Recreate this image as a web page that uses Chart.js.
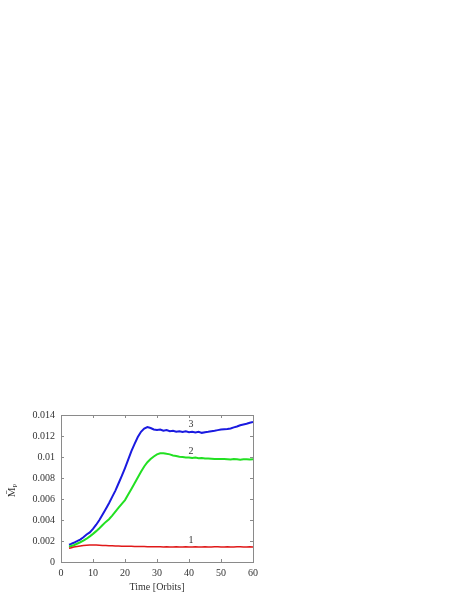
<!DOCTYPE html>
<html>
<head>
<meta charset="utf-8">
<script src="https://cdn.jsdelivr.net/npm/chart.js@4"></script>
<style>
  body { margin: 0; background: #fff; }
  #wrap { width: 458px; height: 592px; }
</style>
</head>
<body>
<div id="wrap"><canvas id="myChart" width="458" height="592"></canvas></div>
<script>
// time in orbits
const times = [2.5, 3, 4, 5, 6, 7, 8, 9, 10, 11, 12, 13, 14, 15, 16, 17, 18, 19, 20,
  21, 22, 23, 24, 25, 26, 27, 28, 29, 30, 31, 32, 33, 34, 35, 36, 37, 38, 39, 40,
  41, 42, 43, 44, 45, 46, 47, 48, 49, 50, 51, 52, 53, 54, 55, 56, 57, 58, 59, 60];

// curve 3 (blue)
const mp3 = [0.00165, 0.00170, 0.00183, 0.00198, 0.00214, 0.00236, 0.00262, 0.00282, 0.00315,
  0.00355, 0.00400, 0.00452, 0.00505, 0.00560, 0.00620, 0.00680, 0.00750, 0.00820, 0.00895,
  0.00975, 0.01055, 0.01125, 0.01190, 0.01240, 0.01270, 0.01285, 0.01276, 0.01262, 0.01258,
  0.01262, 0.01250, 0.01256, 0.01246, 0.01250, 0.01240, 0.01246, 0.01238, 0.01244, 0.01236,
  0.01240, 0.01234, 0.01240, 0.01230, 0.01236, 0.01240, 0.01246, 0.01250, 0.01256, 0.01262,
  0.01264, 0.01266, 0.01272, 0.01282, 0.01290, 0.01302, 0.01310, 0.01316, 0.01326, 0.01334];

// curve 2 (green)
const mp2 = [0.00145, 0.00150, 0.00160, 0.00174, 0.00188, 0.00204, 0.00222, 0.00244, 0.00268,
  0.00294, 0.00322, 0.00352, 0.00382, 0.00408, 0.00442, 0.00480, 0.00518, 0.00554, 0.00590,
  0.00642, 0.00696, 0.00750, 0.00805, 0.00860, 0.00910, 0.00950, 0.00980, 0.01005, 0.01025,
  0.01035, 0.01036, 0.01030, 0.01025, 0.01015, 0.01010, 0.01002, 0.01000, 0.00995, 0.00996,
  0.00990, 0.00994, 0.00988, 0.00990, 0.00985, 0.00986, 0.00984, 0.00980, 0.00982, 0.00980,
  0.00980, 0.00978, 0.00976, 0.00980, 0.00979, 0.00975, 0.00979, 0.00978, 0.00976, 0.00979];

// curve 1 (red)
const mp1 = [0.00130, 0.00134, 0.00142, 0.00148, 0.00153, 0.00157, 0.00160, 0.00162, 0.00163,
  0.00162, 0.00160, 0.00158, 0.00157, 0.00155, 0.00154, 0.00153, 0.00152, 0.00151, 0.00150,
  0.00149, 0.00149, 0.00148, 0.00148, 0.00147, 0.00147, 0.00146, 0.00146, 0.00145, 0.00145,
  0.00145, 0.00144, 0.00145, 0.00144, 0.00144, 0.00145, 0.00144, 0.00144, 0.00145, 0.00144,
  0.00144, 0.00145, 0.00144, 0.00144, 0.00145, 0.00144, 0.00144, 0.00145, 0.00145, 0.00144,
  0.00144, 0.00145, 0.00144, 0.00144, 0.00145, 0.00145, 0.00144, 0.00144, 0.00145, 0.00144];

// curve labels, placed in data coordinates
const curveNames = ['1', '2', '3'];
const curveLabelX = [40.6, 40.6, 40.6];
const curveLabelY = [0.00204, 0.01057, 0.01308];

const xTicks = [0, 10, 20, 30, 40, 50, 60];
const yTicks = [0, 0.002, 0.004, 0.006, 0.008, 0.01, 0.012, 0.014];

const FONT = 'Liberation Serif';
const TXT = '#333';
const AXIS = '#8a8a8a';

const toPoints = vals => times.map((t, i) => ({ x: t, y: vals[i] }));

// gnuplot-style box with inward ticks, titles and curve numbers
const frame = {
  id: 'frame',
  afterDraw(chart) {
    const { ctx, chartArea: a, scales: { x, y } } = chart;
    ctx.save();
    ctx.strokeStyle = AXIS;
    ctx.lineWidth = 1;
    ctx.strokeRect(Math.round(a.left) + 0.5, Math.round(a.top) + 0.5,
      Math.round(a.right - a.left), Math.round(a.bottom - a.top));
    ctx.beginPath();
    xTicks.forEach(v => {
      const px = Math.round(x.getPixelForValue(v)) + 0.5;
      ctx.moveTo(px, a.bottom); ctx.lineTo(px, a.bottom - 3);
      ctx.moveTo(px, a.top); ctx.lineTo(px, a.top + 3);
    });
    yTicks.forEach(v => {
      const py = Math.round(y.getPixelForValue(v)) + 0.5;
      ctx.moveTo(a.left, py); ctx.lineTo(a.left + 3, py);
      ctx.moveTo(a.right, py); ctx.lineTo(a.right - 3, py);
    });
    ctx.stroke();

    ctx.fillStyle = TXT;
    ctx.font = `10px "${FONT}"`;
    ctx.textAlign = 'center';
    ctx.textBaseline = 'middle';
    curveNames.forEach((n, i) => {
      ctx.fillText(n, x.getPixelForValue(curveLabelX[i]), y.getPixelForValue(curveLabelY[i]));
    });

    // x title
    ctx.fillText('Time [Orbits]', (a.left + a.right) / 2, 587);

    // y title: M with bar, subscript P
    ctx.translate(12, (a.top + a.bottom) / 2 + 1);
    ctx.rotate(-Math.PI / 2);
    ctx.font = `11px "${FONT}"`;
    ctx.textAlign = 'right';
    ctx.fillText('M\u0304', 2, 0);
    ctx.font = `7px "${FONT}"`;
    ctx.textAlign = 'left';
    ctx.fillText('P', 2, 3);
    ctx.restore();
  }
};

new Chart(document.getElementById('myChart'), {
  type: 'line',
  data: {
    datasets: [
      { data: toPoints(mp1), borderColor: '#e01818', borderWidth: 1.5 },
      { data: toPoints(mp2), borderColor: '#22e022', borderWidth: 2 },
      { data: toPoints(mp3), borderColor: '#1a1ae0', borderWidth: 2 }
    ]
  },
  options: {
    responsive: false,
    animation: false,
    events: [],
    elements: { point: { radius: 0 }, line: { tension: 0 } },
    layout: { padding: { left: 0, right: 205, top: 415, bottom: 0 } },
    plugins: { legend: { display: false }, tooltip: { enabled: false } },
    scales: {
      x: {
        type: 'linear',
        min: 0,
        max: 60,
        afterFit: s => { s.height = 30; },
        afterBuildTicks: s => { s.ticks = xTicks.map(v => ({ value: v })); },
        grid: { display: false, drawTicks: false },
        border: { display: false },
        ticks: { padding: 5, color: TXT, font: { family: FONT, size: 10 } }
      },
      y: {
        min: 0,
        max: 0.014,
        afterFit: s => { s.width = 61; },
        afterBuildTicks: s => { s.ticks = yTicks.map(v => ({ value: v })); },
        grid: { display: false, drawTicks: false },
        border: { display: false },
        ticks: {
          padding: 6,
          color: TXT,
          font: { family: FONT, size: 10 },
          callback: v => String(Number(v.toFixed(3)))
        }
      }
    }
  },
  plugins: [frame]
});
</script>
</body>
</html>
